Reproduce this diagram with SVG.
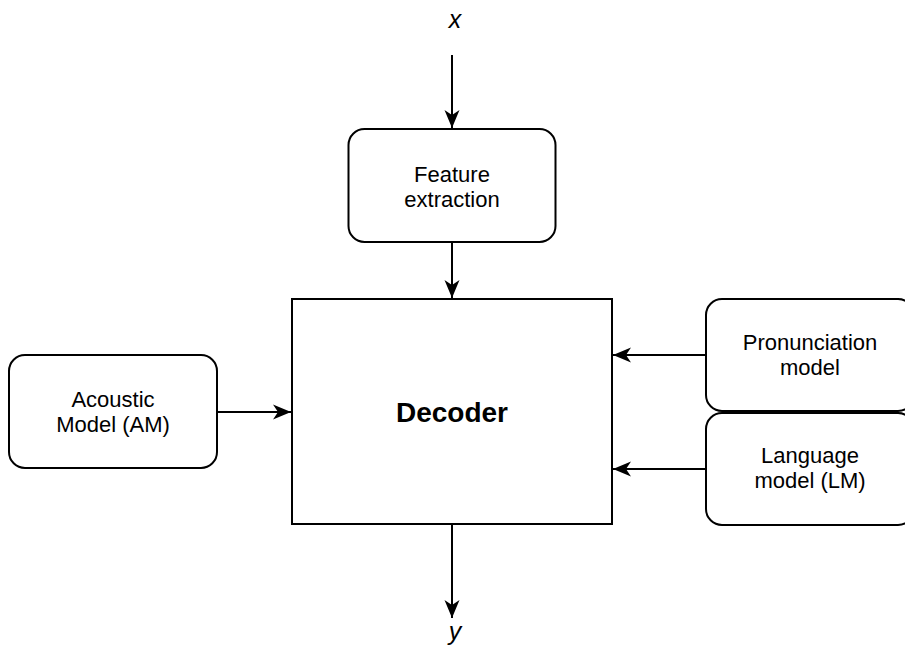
<svg xmlns="http://www.w3.org/2000/svg" width="905" height="648" viewBox="0 0 905 648">
  <style>
    .box { fill: #ffffff; stroke: #000000; stroke-width: 2; }
    .lbl { font-family: "Liberation Sans", Arial, Helvetica, sans-serif; font-size: 22px; fill: #000000; text-anchor: middle; }
    .var { font-family: "Liberation Sans", Arial, Helvetica, sans-serif; font-size: 25px; font-style: italic; fill: #000000; text-anchor: middle; }
    .title { font-family: "Liberation Sans", Arial, Helvetica, sans-serif; font-size: 28px; font-weight: bold; fill: #000000; text-anchor: middle; }
    .edge { fill: none; stroke: #000000; stroke-width: 2; }
  </style>
  <defs>
    <marker id="arrow" viewBox="0 0 18 16" markerUnits="userSpaceOnUse" markerWidth="18" markerHeight="16" refX="18" refY="8" orient="auto">
      <path d="M18,8 L0,0.5 L5,8 L0,15.5 Z" fill="#000000"/>
    </marker>
  </defs>
  <rect width="905" height="648" fill="#ffffff"/>

  <!-- connectors -->
  <g id="connectors">
    <line class="edge" x1="452" y1="55" x2="452" y2="128" marker-end="url(#arrow)"/>
    <line class="edge" x1="452" y1="243" x2="452" y2="298" marker-end="url(#arrow)"/>
    <line class="edge" x1="217" y1="412" x2="291" y2="412" marker-end="url(#arrow)"/>
    <line class="edge" x1="706" y1="355" x2="613" y2="355" marker-end="url(#arrow)"/>
    <line class="edge" x1="706" y1="469" x2="613" y2="469" marker-end="url(#arrow)"/>
    <line class="edge" x1="452" y1="524" x2="452" y2="618" marker-end="url(#arrow)"/>
  </g>

  <!-- input / output symbols -->
  <g id="input-x">
    <text class="var" x="455" y="28">x</text>
  </g>
  <g id="output-y">
    <text class="var" x="455" y="640">y</text>
  </g>

  <g id="feature-extraction">
    <rect class="box" x="348.5" y="129" width="207" height="113" rx="16" ry="16"/>
    <text class="lbl" x="452" y="182">Feature</text>
    <text class="lbl" x="452" y="207">extraction</text>
  </g>

  <g id="decoder">
    <rect class="box" x="292" y="299" width="320" height="225"/>
    <text class="title" x="452" y="422">Decoder</text>
  </g>

  <g id="acoustic-model">
    <rect class="box" x="9" y="355" width="208" height="113" rx="16" ry="16"/>
    <text class="lbl" x="113" y="407">Acoustic</text>
    <text class="lbl" x="113" y="432">Model (AM)</text>
  </g>

  <g id="pronunciation-model">
    <rect class="box" x="706" y="299" width="208" height="112" rx="16" ry="16"/>
    <text class="lbl" x="810" y="350">Pronunciation</text>
    <text class="lbl" x="810" y="375">model</text>
  </g>

  <g id="language-model">
    <rect class="box" x="706" y="413" width="208" height="112" rx="16" ry="16"/>
    <text class="lbl" x="810" y="463">Language</text>
    <text class="lbl" x="810" y="488">model (LM)</text>
  </g>
</svg>
